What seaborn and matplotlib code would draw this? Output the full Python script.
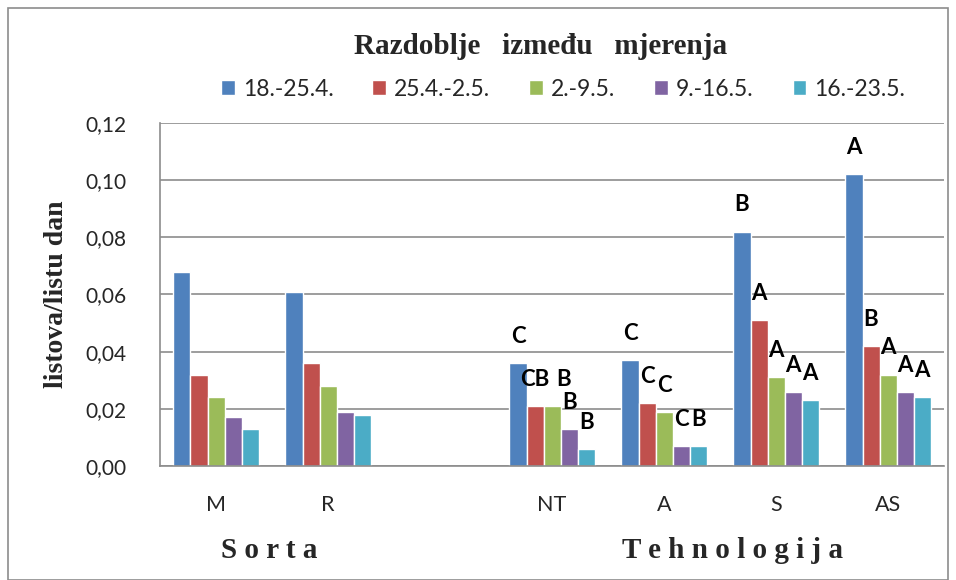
import numpy as np
import pandas as pd
import matplotlib
matplotlib.use('Agg')
import matplotlib.pyplot as plt
import seaborn as sns
from matplotlib.ticker import FuncFormatter, MultipleLocator
from matplotlib.patches import Rectangle

# ── data ─────────────────────────────────────────────
categories = ['M', 'R', ' ', 'NT', 'A', 'S', 'AS']
periods = ['18.-25.4.', '25.4.-2.5.', '2.-9.5.', '9.-16.5.', '16.-23.5.']

p1 = [0.068, 0.061, np.nan, 0.036, 0.037, 0.082, 0.102]
p2 = [0.032, 0.036, np.nan, 0.021, 0.022, 0.051, 0.042]
p3 = [0.024, 0.028, np.nan, 0.021, 0.019, 0.031, 0.032]
p4 = [0.017, 0.019, np.nan, 0.013, 0.007, 0.026, 0.026]
p5 = [0.013, 0.018, np.nan, 0.006, 0.007, 0.023, 0.024]

l1 = ['', '', '', 'C', 'C', 'B', 'A']
l2 = ['', '', '', 'CB', 'C', 'A', 'B']
l3 = ['', '', '', 'B', 'C', 'A', 'A']
l4 = ['', '', '', 'B', 'C', 'A', 'A']
l5 = ['', '', '', 'B', 'B', 'A', 'A']

colors = ['#4F81BD', '#C0504D', '#9BBB59', '#8064A2', '#4BACC6']

rows = []
for per, vals, labs in zip(periods, [p1, p2, p3, p4, p5], [l1, l2, l3, l4, l5]):
    for cat, v, lab in zip(categories, vals, labs):
        rows.append({'kat': cat, 'period': per, 'val': v, 'slovo': lab})
df = pd.DataFrame(rows)

# ── plot ─────────────────────────────────────────────
sns.set_style('white')
plt.rcParams['font.family'] = ['Lato', 'DejaVu Sans']

fig = plt.figure(figsize=(9.56, 5.8), dpi=100)
ax = fig.add_axes([0.1674, 0.1966, 0.8201, 0.5914])

sns.barplot(data=df.dropna(subset=['val']), x='kat', y='val', hue='period',
            order=categories, hue_order=periods, palette=colors,
            width=0.76, saturation=1, errorbar=None, ax=ax, legend=True)

# letters above bars
lookup = {(r.kat, r.period): r.slovo for r in df.itertuples()}
for per, cont in zip(periods, ax.containers):
    for bar in cont:
        h = bar.get_height()
        if np.isnan(h):
            continue
        xc = bar.get_x() + bar.get_width() / 2
        cat = categories[int(round(xc))]
        s = lookup.get((cat, per), '')
        if not s:
            continue
        dx = 0.1 if (cat == 'NT' and per == '2.-9.5.') else 0
        ax.text(xc + dx, h + 0.0093, s, ha='center', va='center',
                fontsize=16, fontweight='bold', color='black')

ax.set_ylim(0, 0.12)
ax.set_xlim(-0.5, 6.5)
ax.yaxis.set_major_locator(MultipleLocator(0.02))
ax.yaxis.set_major_formatter(FuncFormatter(lambda v, p: f'{v:.2f}'.replace('.', ',')))
ax.grid(axis='y', color='#8C8C8C', linewidth=1.2)
ax.set_axisbelow(True)
for s in ['top', 'right']:
    ax.spines[s].set_visible(False)
ax.spines['left'].set_color('#8C8C8C')
ax.spines['bottom'].set_color('#8C8C8C')
ax.spines['left'].set_linewidth(1.2)
ax.spines['bottom'].set_linewidth(1.2)

ax.set_xticks(range(len(categories)))
ax.set_xticklabels(categories)
ax.set_xticks(np.arange(-0.5, len(categories)), minor=True)
ax.tick_params(axis='x', which='major', length=0, labelsize=15.5, pad=21)
ax.tick_params(axis='x', which='minor', length=6, color='#8C8C8C', width=1.2)
ax.tick_params(axis='y', length=7, color='#8C8C8C', width=1.2, labelsize=15, pad=17)
ax.set_xlabel('')
ax.set_ylabel('listova/listu dan', family='Liberation Serif', fontweight='bold',
              fontsize=20, labelpad=12)

handles, labels = ax.get_legend_handles_labels()
ax.legend(handles, labels, ncol=5, loc='center', bbox_to_anchor=(563 / 956, 1 - 89 / 580),
          bbox_transform=fig.transFigure, frameon=False, fontsize=16.5,
          handlelength=0.6, handleheight=0.6, handletextpad=0.35, columnspacing=1.7)

fig.text(541 / 956, 1 - 46 / 580, 'Razdoblje   između   mjerenja', ha='center', va='center',
         family='Liberation Serif', fontweight='bold', fontsize=21)
fig.text(269 / 956, 1 - 551 / 580, 'S o r t a', ha='center', va='center',
         family='Liberation Serif', fontweight='bold', fontsize=21)
fig.text(733 / 956, 1 - 551 / 580, 'T e h n o l o g i j a', ha='center', va='center',
         family='Liberation Serif', fontweight='bold', fontsize=21)

# outer chart frame
fig.patches.append(Rectangle((8 / 956, 0), 940 / 956, 1 - 8 / 580, transform=fig.transFigure,
                             fill=False, edgecolor='#8C8C8C', linewidth=1.2))

plt.savefig('out.png', dpi=100)
